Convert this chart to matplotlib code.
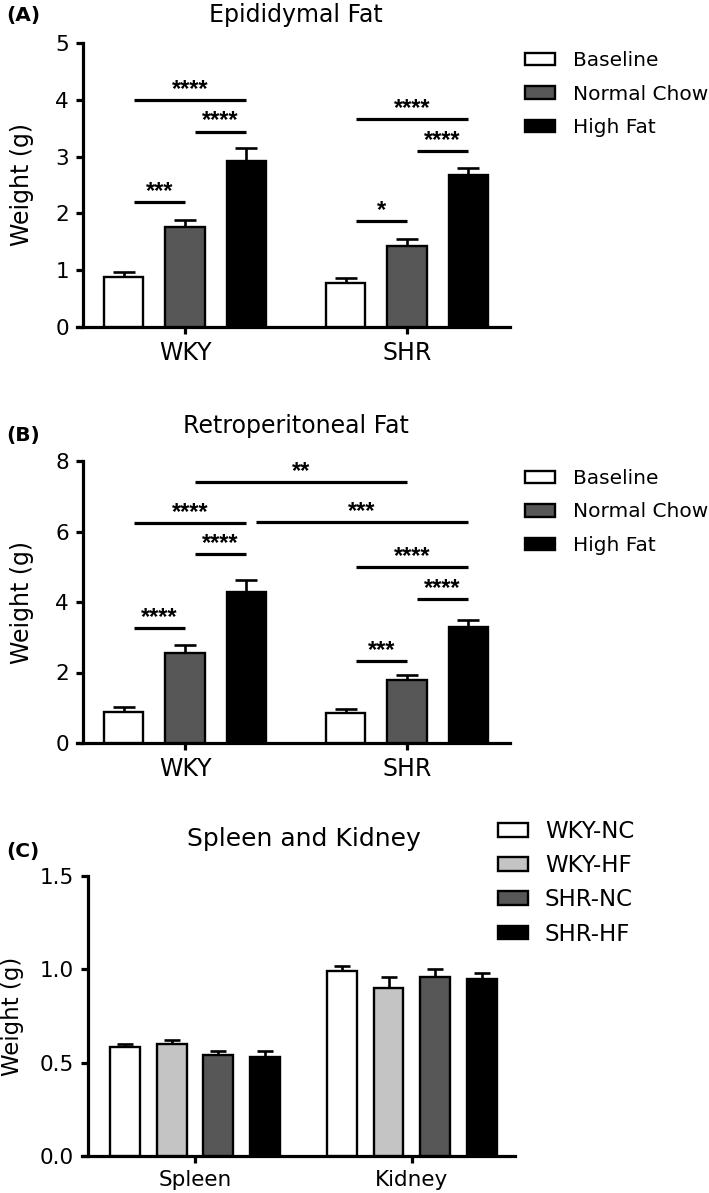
import matplotlib
matplotlib.use('Agg')
import matplotlib.pyplot as plt
from matplotlib.patches import Patch
import numpy as np

plt.rcParams['font.family'] = ['DejaVu Sans']

# ---------------- data ----------------
strains = ['WKY', 'SHR']
diets = ['Baseline', 'Normal Chow', 'High Fat']

# Panel A: Epididymal fat (g), per strain [WKY, SHR]
epi_baseline = [0.88, 0.78]
epi_baseline_sem = [0.09, 0.09]
epi_normal = [1.76, 1.43]
epi_normal_sem = [0.12, 0.12]
epi_highfat = [2.92, 2.68]
epi_highfat_sem = [0.23, 0.12]

# Panel B: Retroperitoneal fat (g)
retro_baseline = [0.88, 0.85]
retro_baseline_sem = [0.14, 0.11]
retro_normal = [2.55, 1.80]
retro_normal_sem = [0.23, 0.13]
retro_highfat = [4.28, 3.30]
retro_highfat_sem = [0.34, 0.19]

# significance: ((group, bar), (group, bar), height, label)
epi_sig = [((0, 0), (0, 1), 2.20, '***'),
           ((0, 0), (0, 2), 4.00, '****'),
           ((0, 1), (0, 2), 3.44, '****'),
           ((1, 0), (1, 1), 1.87, '*'),
           ((1, 0), (1, 2), 3.66, '****'),
           ((1, 1), (1, 2), 3.10, '****')]
retro_sig = [((0, 0), (0, 1), 3.26, '****'),
             ((0, 0), (0, 2), 6.24, '****'),
             ((0, 1), (0, 2), 5.36, '****'),
             ((0, 1), (1, 1), 7.40, '**'),
             ((0, 2), (1, 2), 6.27, '***'),
             ((1, 0), (1, 1), 2.33, '***'),
             ((1, 0), (1, 2), 4.99, '****'),
             ((1, 1), (1, 2), 4.09, '****')]

# Panel C: Spleen and Kidney (g)
organs = ['Spleen', 'Kidney']
groups_c = ['WKY-NC', 'WKY-HF', 'SHR-NC', 'SHR-HF']
wky_nc = [0.584, 0.99]
wky_nc_sem = [0.015, 0.03]
wky_hf = [0.60, 0.90]
wky_hf_sem = [0.02, 0.06]
shr_nc = [0.54, 0.96]
shr_nc_sem = [0.02, 0.04]
shr_hf = [0.53, 0.95]
shr_hf_sem = [0.03, 0.03]

# ---------------- style ----------------
W, H = 709, 1193
fig = plt.figure(figsize=(W / 100, H / 100), dpi=100)

diet_colors = ['white', '#575757', 'black']
c_colors = ['white', '#c4c4c4', '#575757', 'black']
SPINE_LW = 2.3
BAR_LW = 1.7


def fx(px):
    return px / W


def fy(py):
    return 1 - py / H


def style_axes(ax, tick_fs, xtick_fs, width_px):
    for s in ['top', 'right']:
        ax.spines[s].set_visible(False)
    for s in ['left', 'bottom']:
        ax.spines[s].set_linewidth(SPINE_LW)
    x0, x1 = ax.get_xlim()
    ext = 6 * (x1 - x0) / width_px
    ax.spines['bottom'].set_bounds(x0 - ext, x1)
    ax.tick_params(axis='both', direction='out', length=5, width=SPINE_LW)
    ax.tick_params(axis='y', labelsize=tick_fs, pad=5)
    ax.tick_params(axis='x', labelsize=xtick_fs, pad=5)


def fat_panel(rect, means, sems, sig, ylim, yticks, title, label, title_y, label_y, legend_top):
    ax = fig.add_axes(rect)
    pos = np.arange(len(strains))
    offs = [-0.275, 0.0, 0.275]
    width = 0.176
    for k in range(3):
        x = pos + offs[k]
        ax.bar(x, means[k], width=width, color=diet_colors[k], edgecolor='black',
               linewidth=BAR_LW, zorder=3)
        ax.errorbar(x, means[k], yerr=[np.zeros(len(x)), sems[k]], fmt='none',
                    ecolor='black', elinewidth=1.9, capsize=8, capthick=1.9, zorder=2)
    for (g1, b1), (g2, b2), yv, txt in sig:
        x1 = pos[g1] + offs[b1] + 0.045
        x2 = pos[g2] + offs[b2]
        ax.plot([x1, x2], [yv, yv], color='black', lw=2.3, solid_capstyle='butt',
                clip_on=False, zorder=4)
        ax.annotate(txt, xy=((x1 + x2) / 2, yv), xytext=(0, 3.0), textcoords='offset points',
                    ha='center', va='baseline', fontsize=17, fontweight='bold',
                    family='Liberation Sans', annotation_clip=False)
    ax.set_xlim(-0.4595, 1.464)
    ax.set_ylim(*ylim)
    ax.set_yticks(yticks)
    ax.set_xticks(pos)
    ax.set_xticklabels(strains)
    style_axes(ax, 15.5, 17, 427)
    ax.set_ylabel('Weight (g)', fontsize=17, va='center')
    ax.yaxis.set_label_coords((22 - 83) / 427, 0.5)
    fig.text(fx(296), fy(title_y), title, ha='center', va='center', fontsize=17)
    fig.text(fx(6), fy(label_y), label, ha='left', va='center', fontsize=14.5, fontweight='bold')
    handles = [Patch(facecolor=diet_colors[k], edgecolor='black', linewidth=BAR_LW, label=diets[k])
               for k in range(3)]
    fig.legend(handles=handles, loc='upper left', bbox_to_anchor=(fx(525), fy(legend_top)),
               frameon=False, fontsize=14.5, handlelength=1.5, handleheight=0.6,
               handletextpad=0.9, labelspacing=0.72, borderpad=0, borderaxespad=0)
    return ax


fat_panel([fx(83), fy(327), 427 / W, 284 / H],
          [epi_baseline, epi_normal, epi_highfat],
          [epi_baseline_sem, epi_normal_sem, epi_highfat_sem],
          epi_sig, (0, 5), [0, 1, 2, 3, 4, 5], 'Epididymal Fat', '(A)', 15, 16, 51)

fat_panel([fx(83), fy(743), 427 / W, 282 / H],
          [retro_baseline, retro_normal, retro_highfat],
          [retro_baseline_sem, retro_normal_sem, retro_highfat_sem],
          retro_sig, (0, 8), [0, 2, 4, 6, 8], 'Retroperitoneal Fat', '(B)', 426, 435, 469)

# Panel C
axc = fig.add_axes([fx(88), fy(1156), 427 / W, 280 / H])
posc = np.arange(len(organs))
offc = [-0.3235, -0.108, 0.108, 0.3235]
wc = 0.138
c_means = [wky_nc, wky_hf, shr_nc, shr_hf]
c_sems = [wky_nc_sem, wky_hf_sem, shr_nc_sem, shr_hf_sem]
for k in range(4):
    x = posc + offc[k]
    axc.bar(x, c_means[k], width=wc, color=c_colors[k], edgecolor='black',
            linewidth=BAR_LW, zorder=3)
    axc.errorbar(x, c_means[k], yerr=[np.zeros(len(x)), c_sems[k]], fmt='none',
                 ecolor='black', elinewidth=1.9, capsize=6, capthick=1.9, zorder=2)
axc.set_xlim(-0.493, 1.475)
axc.set_ylim(0, 1.5)
axc.set_yticks([0, 0.5, 1.0, 1.5])
axc.set_yticklabels(['0.0', '0.5', '1.0', '1.5'])
axc.set_xticks(posc)
axc.set_xticklabels(organs)
style_axes(axc, 15.5, 15.5, 427)
axc.set_ylabel('Weight (g)', fontsize=16.5, va='center')
axc.yaxis.set_label_coords((13 - 88) / 427, 0.5)
fig.text(fx(304), fy(839), 'Spleen and Kidney', ha='center', va='center', fontsize=18)
fig.text(fx(6), fy(852), '(C)', ha='left', va='center', fontsize=14.5, fontweight='bold')
handles_c = [Patch(facecolor=c_colors[k], edgecolor='black', linewidth=BAR_LW, label=groups_c[k])
             for k in range(4)]
fig.legend(handles=handles_c, loc='upper left', bbox_to_anchor=(fx(498), fy(820)),
           frameon=False, fontsize=16.5, handlelength=1.3, handleheight=0.55,
           handletextpad=0.75, labelspacing=0.49, borderpad=0, borderaxespad=0)

fig.savefig('out.png', dpi=100)
